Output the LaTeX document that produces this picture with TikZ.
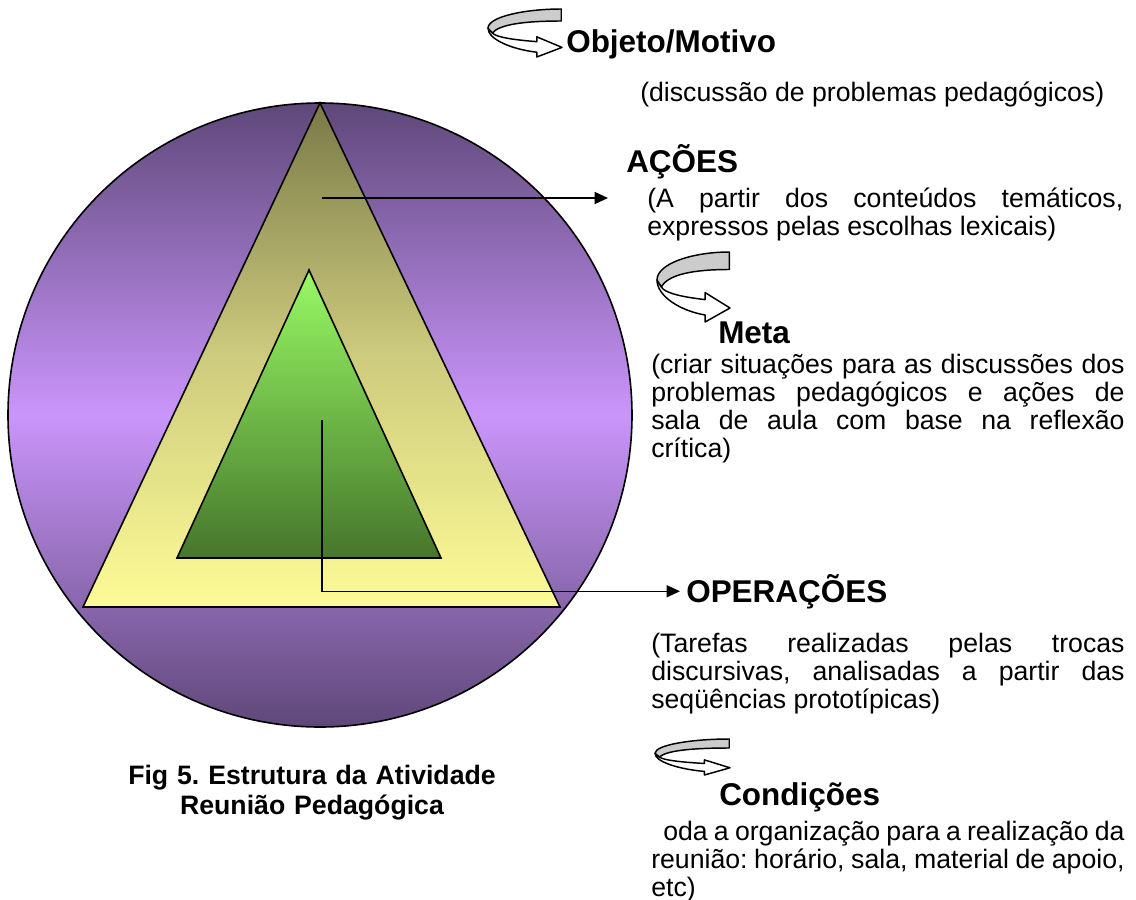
\documentclass[tikz,border=0pt]{standalone}
\usepackage{fontspec}
\setmainfont{Liberation Sans}
\usetikzlibrary{arrows.meta, positioning}
\frenchspacing

\definecolor{purpdark}{RGB}{94,72,121}
\definecolor{purplight}{RGB}{202,149,251}
\definecolor{olivetop}{RGB}{122,121,72}
\definecolor{olivemid}{RGB}{205,203,125}
\definecolor{yellowbot}{RGB}{253,251,150}
\definecolor{greentop}{RGB}{152,250,100}
\definecolor{greenbot}{RGB}{70,118,44}

\tikzset{
  uturn/.pic={
    \path[draw=black,line width=1.1pt,fill=white,line join=round]
      (0,0.40) .. controls (0,0.63) and (0.318,0.84) .. (0.659,0.90)
      -- (0.659,1) -- (1,0.80) -- (0.659,0.58) -- (0.659,0.68)
      .. controls (0.318,0.64) and (0.10,0.58) .. (0.06,0.50) -- cycle;
    \path[draw=black,line width=1.1pt,fill=gray!40,line join=round]
      (0.99,0) .. controls (0.5,0) and (0,0.16) .. (0,0.40)
      -- (0.06,0.50) .. controls (0.15,0.32) and (0.5,0.25) .. (0.99,0.25) -- cycle;
  }
}

\begin{document}
\begin{tikzpicture}[x=0.75pt,y=-0.75pt,
  hd/.style={inner sep=0pt,font=\fontsize{23.6}{26}\selectfont\bfseries},
  txt/.style={inner sep=0pt,font=\fontsize{20}{21}\selectfont},
  para/.style={txt,align=justify,text width=#1},
  conn/.style={line width=1.1pt,-{Triangle[length=10pt,width=9pt]}},
  edge/.style={draw=black,line width=1.2pt}]

 \useasboundingbox (0,0) rectangle (1136,900);

 % circle and the two triangles
 \path[edge,top color=purpdark,bottom color=purpdark,middle color=purplight] (320,415) circle (312);
 \path[edge,top color=olivetop,bottom color=yellowbot,middle color=olivemid] (320,103) -- (560,607) -- (83,607) -- cycle;
 \path[edge,top color=greentop,bottom color=greenbot] (309,270) -- (441,558) -- (177,558) -- cycle;

 % texts on the right
 \node[hd,anchor=base west] (objeto) at (566,52) {Objeto/Motivo};
 \node[txt,anchor=base west] (objetoTxt) at (640,101) {(discussão de problemas pedagógicos)};
 \node[hd,anchor=base west] (acoes) at (626,172) {AÇÕES};
 \node[para=357pt,anchor=base west] (acoesTxt) at (647,207)
   {(A partir dos conteúdos temáticos,\linebreak expressos pelas escolhas lexicais)};
 \node[hd,anchor=base west] (meta) at (718,343) {Meta};
 \node[para=355pt,anchor=base west] (metaTxt) at (651,373)
   {(criar situações para as discussões dos\linebreak problemas pedagógicos e ações de\linebreak
    sala de aula com base na reflexão\linebreak crítica)};
 \node[hd,anchor=base west] (ops) at (686,602) {OPERAÇÕES};
 \node[para=355pt,anchor=base west] (opsTxt) at (651,652)
   {(Tarefas realizadas pelas trocas\linebreak discursivas, analisadas a partir das\linebreak
    seqüências prototípicas)};
 \node[hd,anchor=base west] (cond) at (719,805) {Condições};
 \node[para=355pt,anchor=base west] (condTxt) at (651,840)
   {\hspace*{9pt}oda a organização para a realização da\linebreak reunião: horário, sala, material de apoio,\linebreak etc)};

 % caption
 \node[font=\fontsize{20}{22.5}\selectfont\bfseries,inner sep=0pt,align=center,text width=300pt,anchor=base]
   (caption) at (312,784) {Fig 5. Estrutura da Atividade\\Reunião Pedagógica};

 % turning arrows
 \pic[xscale=74,yscale=48] at (488,9) {uturn};
 \pic[xscale=73,yscale=70] at (657,252) {uturn};
 \pic[xscale=75,yscale=36] at (655,739) {uturn};

 % connectors
 \coordinate (acoesFrom) at (322,198);
 \coordinate (acoesTo) at (608,198);
 \draw[conn] (acoesFrom) -- (acoesTo);
 \coordinate (opsFrom) at (322,420);
 \draw[conn,shorten >=4.5pt] (opsFrom) |- (ops.west);

\end{tikzpicture}
\end{document}
